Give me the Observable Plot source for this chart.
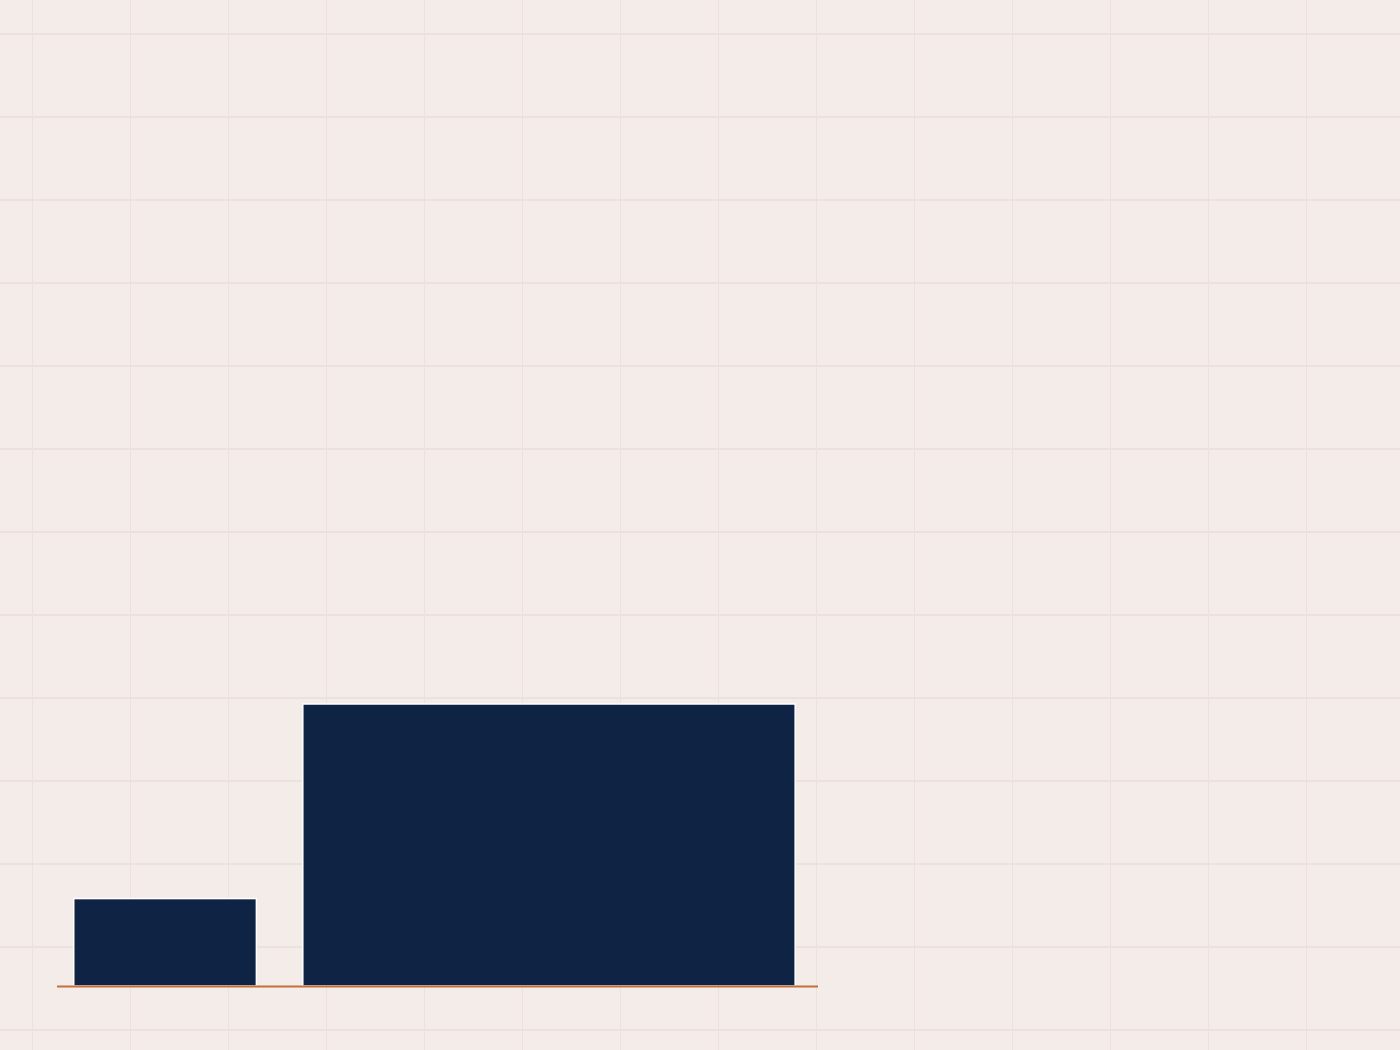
<!DOCTYPE html>
<html>
<head>
<meta charset="utf-8">
<script src="https://cdn.jsdelivr.net/npm/d3@7"></script>
<script src="https://cdn.jsdelivr.net/npm/@observablehq/plot@0.6"></script>
<style>
  html, body { margin: 0; padding: 0; }
  body {
    width: 1400px; height: 1050px; overflow: hidden;
    background-color: #f4ece9;
    background-image:
      linear-gradient(to right, #ebe2df 1.5px, transparent 1.5px),
      linear-gradient(to bottom, #ebe2df 1.5px, transparent 1.5px);
    background-size: 98px 83px;
    background-position: 32px 33px;
  }
  #chart svg { display: block; }
</style>
</head>
<body>
<div id="chart"></div>
<script>
// Data
const categories = ["A", "B"];
const starts = [2.2, 32.3];
const ends = [26.2, 97.0];
const values = [31, 100];

const rows = categories.map((c, i) => ({ category: c, x1: starts[i], x2: ends[i], value: values[i] }));

const chart = Plot.plot({
  width: 1400,
  height: 1050,
  marginLeft: 57,
  marginRight: 582,
  marginTop: 704,
  marginBottom: 64,
  style: { background: "transparent", overflow: "visible" },
  x: { domain: [0, 100], axis: null },
  y: { domain: [0, 100], axis: null },
  marks: [
    Plot.rectY(rows, { x1: "x1", x2: "x2", y: "value", fill: "#0f2344", stroke: "#ffffff", strokeWidth: 1.5 }),
    Plot.ruleY([0], { stroke: "#c2703d", strokeWidth: 2 })
  ]
});
document.getElementById("chart").appendChild(chart);
</script>
</body>
</html>
